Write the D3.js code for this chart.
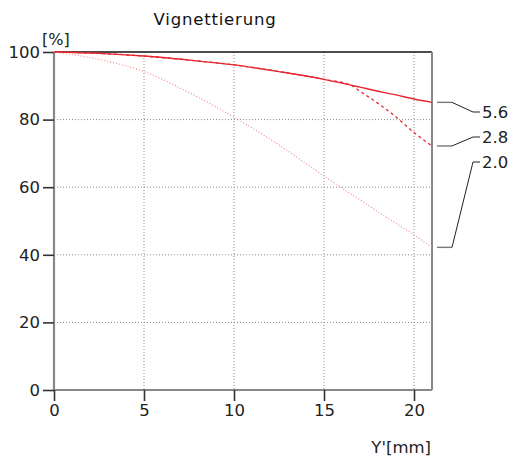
<!DOCTYPE html>
<html>
<head>
<meta charset="utf-8">
<script src="https://cdn.jsdelivr.net/npm/d3@7"></script>
<style>
  html, body { margin: 0; padding: 0; background: #fff; }
  svg { display: block; font-family: "DejaVu Sans", sans-serif; }
</style>
</head>
<body>
<svg id="chart" width="514" height="458"></svg>
<script>
// Image height Y' in mm
const imageHeight = [0, 2.5, 5, 7.5, 10, 12.5, 15, 16.5, 17, 18, 19, 20, 21];
// Relative illumination in % per aperture
const stop56 = [100, 99.6, 98.8, 97.6, 96.2, 94.2, 91.9, 90.2, 89.6, 88.4, 87.3, 86.1, 85.1];
const stop28 = [100, 99.6, 98.8, 97.6, 96.2, 94.2, 91.9, 90.2, 88.4, 84.8, 80.8, 76.2, 72.2];
const stop20 = [100, 97.8, 94.2, 88.0, 80.7, 72.5, 63.3, 58.0, 56.3, 52.7, 49.3, 45.9, 42.2];
const seriesNames = ["5.6", "2.8", "2.0"];
const xTicks = [0, 5, 10, 15, 20];
const yTicks = [0, 20, 40, 60, 80, 100];

const svg = d3.select("#chart");
const plotLeft = 54, plotRight = 432, plotTop = 52, plotBottom = 390;

const x = d3.scaleLinear().domain([0, 21]).range([plotLeft, plotRight]);
const y = d3.scaleLinear().domain([0, 100]).range([plotBottom, plotTop]);

// dotted grid
const grid = svg.append("g");
grid.selectAll(".gx").data(xTicks.filter(d => d > 0)).join("line")
  .attr("x1", d => x(d)).attr("x2", d => x(d))
  .attr("y1", plotTop).attr("y2", plotBottom)
  .attr("stroke", "#8a8a8a").attr("stroke-width", 1).attr("stroke-dasharray", "1,2");
grid.selectAll(".gy").data(yTicks.filter(d => d > 0 && d < 100)).join("line")
  .attr("x1", plotLeft).attr("x2", plotRight)
  .attr("y1", d => y(d)).attr("y2", d => y(d))
  .attr("stroke", "#8a8a8a").attr("stroke-width", 1).attr("stroke-dasharray", "1,2");

// frame: black top, grey right
svg.append("line").attr("x1", plotLeft).attr("x2", plotRight).attr("y1", y(100)).attr("y2", y(100))
  .attr("stroke", "#111").attr("stroke-width", 1.5);
svg.append("line").attr("x1", plotRight).attr("x2", plotRight).attr("y1", plotTop).attr("y2", plotBottom)
  .attr("stroke", "#888").attr("stroke-width", 2);

// axes
const yAxis = svg.append("g").attr("transform", `translate(${plotLeft},0)`)
  .call(d3.axisLeft(y).tickValues(yTicks).tickSize(11).tickPadding(3).tickFormat(d3.format("d")));
const xAxis = svg.append("g").attr("transform", `translate(0,${plotBottom})`)
  .call(d3.axisBottom(x).tickValues(xTicks).tickSize(11).tickPadding(3).tickFormat(d3.format("d")));
[yAxis, xAxis].forEach(g => {
  g.select(".domain").attr("stroke", "#888").attr("stroke-width", 2.2);
  g.selectAll(".tick line").attr("stroke", "#333").attr("stroke-width", 1.6);
  g.selectAll(".tick text").attr("fill", "#222").attr("font-size", 16.5)
    .attr("font-family", "DejaVu Sans, sans-serif");
});
yAxis.select(".domain").attr("d", `M0,${plotBottom}V${plotTop}`);
xAxis.select(".domain").attr("d", `M${plotLeft},0H${plotRight}`);

// curves
const line = d3.line().x(d => x(d[0])).y(d => y(d[1])).curve(d3.curveMonotoneX);
const series = [
  { name: seriesNames[0], values: stop56, color: "#e8262f", width: 1.4, dash: null, labelY: 112 },
  { name: seriesNames[1], values: stop28, color: "#e22a33", width: 1.3, dash: "3,3", labelY: 137 },
  { name: seriesNames[2], values: stop20, color: "#f2838a", width: 1.1, dash: "1,2", labelY: 162 }
];
series.forEach(s => {
  svg.append("path")
    .datum(imageHeight.map((h, i) => [h, s.values[i]]))
    .attr("d", line)
    .attr("fill", "none")
    .attr("stroke", s.color)
    .attr("stroke-width", s.width)
    .attr("stroke-dasharray", s.dash);
});

// leader lines and aperture labels
series.forEach(s => {
  const yEnd = y(s.values[s.values.length - 1]);
  svg.append("line").attr("x1", 437).attr("x2", 452).attr("y1", yEnd).attr("y2", yEnd)
    .attr("stroke", "#777").attr("stroke-width", 1.4);
  svg.append("path")
    .attr("d", `M452,${yEnd}L473,${s.labelY}H480`)
    .attr("fill", "none").attr("stroke", "#222").attr("stroke-width", 1);
  svg.append("text").attr("x", 482).attr("y", s.labelY).attr("dy", "0.36em")
    .attr("font-size", 16.5).attr("fill", "#222").text(s.name);
});

// titles
svg.append("text").attr("x", 215).attr("y", 25).attr("text-anchor", "middle")
  .attr("font-size", 16.5).attr("letter-spacing", 0.8).attr("fill", "#111").text("Vignettierung");
svg.append("text").attr("x", 42).attr("y", 45)
  .attr("font-size", 16).attr("fill", "#222").text("[%]");
svg.append("text").attr("x", 431).attr("y", 453).attr("text-anchor", "end")
  .attr("font-size", 16.5).attr("fill", "#222").text("Y'[mm]");
</script>
</body>
</html>
